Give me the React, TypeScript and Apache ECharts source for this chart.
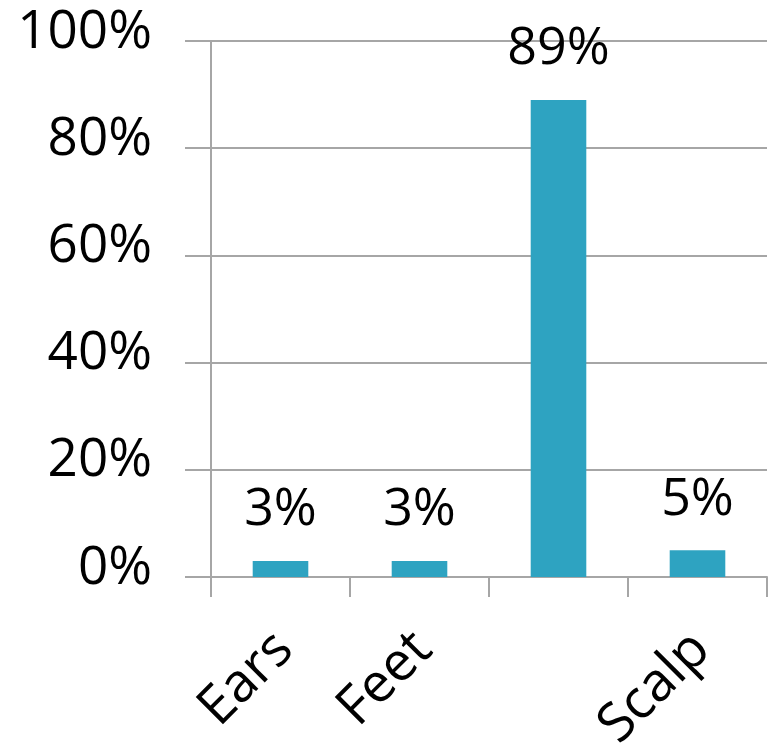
import React, { useEffect, useRef } from "react";
import * as echarts from "echarts";

const categories = ["Ears", "Feet", "", "Scalp"];
const values = [3, 3, 89, 5];
const yTicks = [0, 20, 40, 60, 80, 100];

export default function App() {
  const ref = useRef<HTMLDivElement>(null);
  useEffect(() => {
    if (!ref.current) return;
    const chart = echarts.init(ref.current, null, { renderer: "svg" });
    const font = "'Open Sans', 'Noto Sans', sans-serif";
    chart.setOption({
      animation: false,
      grid: { left: 211, right: 2, top: 41, bottom: 173, containLabel: false, outerBoundsMode: "none" },
      xAxis: {
        type: "category",
        data: categories,
        boundaryGap: true,
        axisLine: { lineStyle: { color: "#a6a6a6", width: 2 } },
        axisTick: { show: true, alignWithLabel: false, length: 20, lineStyle: { color: "#a6a6a6", width: 2 } },
        axisLabel: {
          rotate: 45,
          margin: 60,
          interval: 0,
          color: "#000",
          fontSize: 54,
          fontFamily: font,
        },
      },
      yAxis: {
        type: "value",
        min: yTicks[0],
        max: yTicks[yTicks.length - 1],
        interval: 20,
        axisLine: { show: true, lineStyle: { color: "#a6a6a6", width: 2 } },
        axisTick: { show: true, length: 26, lineStyle: { color: "#a6a6a6", width: 2 } },
        splitLine: { show: true, lineStyle: { color: "#a6a6a6", width: 2 } },
        axisLabel: {
          margin: 59,
          color: "#000",
          fontSize: 53,
          fontFamily: font,
          verticalAlign: "bottom",
          lineHeight: 28,
          formatter: (v: number) => v + "%",
        },
      },
      series: [
        {
          type: "bar",
          data: values,
          barWidth: "40%",
          itemStyle: { color: "#2ea3c1" },
          label: {
            show: true,
            position: "top",
            distance: 30,
            color: "#000",
            fontSize: 52,
            fontFamily: font,
            formatter: (p: any) => p.value + "%",
          },
        },
      ],
    });
    return () => chart.dispose();
  }, []);
  return <div ref={ref} style={{ width: 769, height: 750, position: "absolute", left: 0, top: 0 }} />;
}
